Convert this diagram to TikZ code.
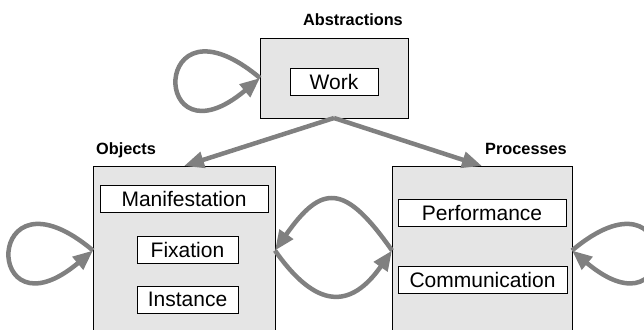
\documentclass[tikz,border=0pt]{standalone}
\usepackage{fontspec}
\setmainfont{Liberation Sans}
\usetikzlibrary{arrows.meta}
\tikzset{
    group/.style={
        draw,
        fill=black!10,
        inner sep=0mm,
        outer sep=0mm,
        line width=0.8pt
    },
    item/.style={
        draw,
        fill=white,
        minimum height=27pt,
        inner sep=0mm,
        line width=0.8pt,
        font=\fontsize{21}{25}\selectfont
    },
    caption/.style={
        inner sep=0mm,
        font=\fontsize{16.3}{19}\selectfont\bfseries
    },
    flow/.style={
        draw=black!50,
        line width=4.5pt,
        -{Triangle[length=20pt,width=16pt]}
    }
}

\begin{document}
\begin{tikzpicture}[x=1pt,y=1pt]
    \useasboundingbox (0,0) rectangle (644,-329);
    \clip (0,0) rectangle (644,-329);
    \node[group,minimum width=148pt,minimum height=80pt] (abs) at (334,-78) {};
    \node[group,minimum width=182pt,minimum height=169pt] (obj) at (184,-250.5) {};
    \node[group,minimum width=180pt,minimum height=169pt] (proc) at (482,-250.5) {};
    \node[caption,anchor=base east] (abscap) at ([xshift=-5pt,yshift=12pt]abs.north east) {Abstractions};
    \node[caption,anchor=base west] (objcap) at ([xshift=3pt,yshift=12pt]obj.north west) {Objects};
    \node[caption,anchor=base east] (proccap) at ([xshift=-5pt,yshift=12pt]proc.north east) {Processes};
    \node[item,minimum width=88pt] (work) at (334,-81.5) {Work};
    \node[item,minimum width=168pt] (manif) at (184,-198.5) {Manifestation};
    \node[item,minimum width=101pt] (fix) at (187.5,-249.5) {Fixation};
    \node[item,minimum width=101pt] (inst) at (187.5,-299.5) {Instance};
    \node[item,minimum width=168pt] (perf) at (482,-213) {Performance};
    \node[item,minimum width=169pt] (comm) at (482.5,-279.5) {Communication};
    \draw[flow] (abs.west) to[out=140,in=-140,distance=144pt] (abs.west);
    \draw[flow] (obj.west) to[out=140,in=-140,distance=144pt] (obj.west);
    \draw[flow] (proc.east) to[out=40,in=-40,distance=144pt] (proc.east);
    \draw[flow] (abs.south) -- (obj.north);
    \draw[flow] (abs.south) -- (proc.north);
    \draw[flow] (proc.west) to[out=125,in=55,distance=82pt] (obj.east);
    \draw[flow] (obj.east) to[out=-55,in=-125,distance=72pt] (proc.west);
\end{tikzpicture}
\end{document}
